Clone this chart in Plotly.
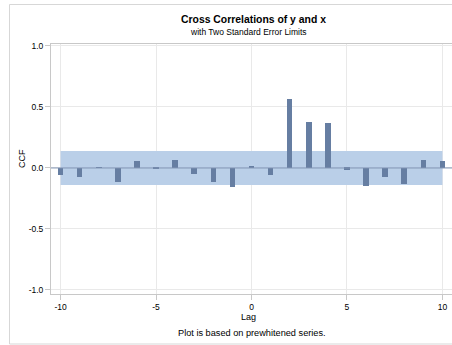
import plotly.graph_objects as go

# Cross-correlation values by lag
lags = [-10, -9, -8, -7, -6, -5, -4, -3, -2, -1, 0, 1, 2, 3, 4, 5, 6, 7, 8, 9, 10]
ccf = [-0.055, -0.078, 0.002, -0.112, 0.057, -0.002, 0.065, -0.047, -0.112, -0.153,
       0.020, -0.060, 0.563, 0.377, 0.372, -0.016, -0.150, -0.070, -0.134, 0.063, 0.060]
# Two standard error limit
se_limit = 0.14

y_ticks = [-1.0, -0.5, 0.0, 0.5, 1.0]
y_tick_text = ["-1.0", "-0.5", "0.0", "0.5", "1.0"]
x_ticks = [-10, -5, 0, 5, 10]
x_tick_text = ["-10", "-5", "0", "5", "10"]

FONT = "Liberation Sans, Arial, sans-serif"
BAR_COLOR = "rgb(102,126,162)"
BAND_COLOR = "rgb(186,207,232)"
GRID = "rgb(233,233,233)"
FRAME = "rgb(200,200,200)"

fig = go.Figure()
fig.add_trace(go.Bar(
    x=lags, y=ccf, base=0, width=0.29,
    marker=dict(color=BAR_COLOR, line=dict(width=0)),
    showlegend=False, hoverinfo="x+y",
))

shapes = [
    # two standard error band
    dict(type="rect", xref="x", yref="y", x0=lags[0], x1=lags[-1],
         y0=-se_limit, y1=se_limit, fillcolor=BAND_COLOR,
         line=dict(width=0), layer="between"),
    # reference line at lag 0
    dict(type="line", xref="x", yref="paper", x0=0, x1=0, y0=0, y1=1,
         line=dict(color="rgb(155,155,155)", width=1), layer="between"),
    # baseline at ccf 0
    dict(type="line", xref="paper", yref="y", x0=0, x1=1, y0=0, y1=0,
         line=dict(color="rgb(128,148,178)", width=1), layer="above"),
    # outer border
    dict(type="rect", xref="paper", yref="paper", x0=-0.1035, x1=1.05,
         y0=-0.2, y1=1.158, line=dict(color="rgb(215,215,215)", width=1),
         fillcolor="rgba(0,0,0,0)", layer="above"),
]

annotations = [
    dict(text="<b>Cross Correlations of y and x</b>", xref="paper", yref="paper",
         x=0.506, y=1.096, showarrow=False, font=dict(family=FONT, size=10.4, color="black"),
         xanchor="center", yanchor="middle"),
    dict(text="with Two Standard Error Limits", xref="paper", yref="paper",
         x=0.492, y=1.046, showarrow=False, font=dict(family=FONT, size=8.5, color="black"),
         xanchor="center", yanchor="middle"),
    dict(text="Lag", xref="paper", yref="paper", x=0.493, y=-0.092, showarrow=False,
         font=dict(family=FONT, size=9, color="black"), xanchor="center", yanchor="middle"),
    dict(text="Plot is based on prewhitened series.", xref="paper", yref="paper",
         x=0.501, y=-0.156, showarrow=False, font=dict(family=FONT, size=9.2, color="black"),
         xanchor="center", yanchor="middle"),
    dict(text="CCF", xref="paper", yref="paper", x=-0.0723, y=0.54, textangle=-90,
         showarrow=False, font=dict(family=FONT, size=9, color="black"),
         xanchor="center", yanchor="middle"),
]

fig.update_layout(
    width=452, height=345,
    margin=dict(l=51, r=0, t=44, b=51),
    paper_bgcolor="white", plot_bgcolor="white",
    font=dict(family=FONT, size=8.5, color="black"),
    shapes=shapes, annotations=annotations,
    showlegend=False, bargap=0,
)
fig.update_xaxes(
    range=[-10.5, 10.5], tickvals=x_ticks, ticktext=x_tick_text,
    showgrid=True, gridcolor=GRID, gridwidth=1, zeroline=False,
    showline=True, linecolor=FRAME, linewidth=1, mirror=True,
    ticks="outside", ticklen=5, tickcolor=FRAME,
    tickfont=dict(family=FONT, size=8.5, color="black"),
)
fig.update_yaxes(
    range=[-1.033, 1.016], tickvals=y_ticks, ticktext=y_tick_text,
    showgrid=True, gridcolor=GRID, gridwidth=1, zeroline=False,
    showline=True, linecolor=FRAME, linewidth=1, mirror=True,
    ticks="outside", ticklen=5, tickcolor=FRAME,
    tickfont=dict(family=FONT, size=8.5, color="black"),
)

fig.write_html("out.html")
